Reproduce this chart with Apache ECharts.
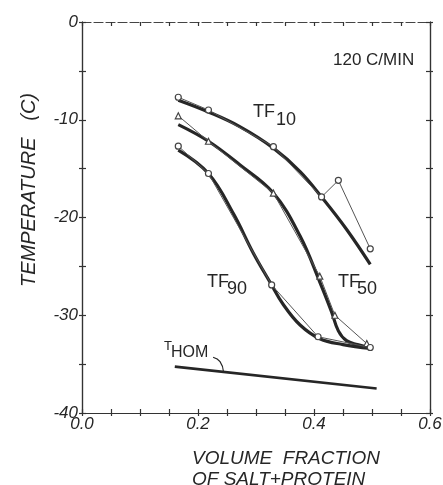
<!DOCTYPE html>
<html>
<head>
<meta charset="utf-8">
<script src="https://cdn.jsdelivr.net/npm/echarts@6/dist/echarts.min.js"></script>
<style>html,body{margin:0;padding:0;background:#fff}#c{width:443px;height:485px}</style>
</head>
<body>
<div id="c"></div>
<script>
// ---- data ----
const xTicks = ['0.0', '0.2', '0.4', '0.6'];
const yTicks = ['0', '-10', '-20', '-30', '-40'];

// measured points (thin lines with markers)
const tf10X = [0.166, 0.218, 0.330, 0.413, 0.442, 0.497];
const tf10Y = [-7.7, -9.0, -12.75, -17.9, -16.2, -23.2];
const tf50X = [0.166, 0.218, 0.330, 0.410, 0.436, 0.491];
const tf50Y = [-9.6, -12.2, -17.5, -26.0, -30.0, -32.9];
const tf90X = [0.166, 0.218, 0.327, 0.407, 0.497];
const tf90Y = [-12.7, -15.5, -26.9, -32.2, -33.3];

// fitted heavy curves
const fit10X = [0.166, 0.218, 0.272, 0.330, 0.376, 0.413, 0.456, 0.497];
const fit10Y = [-8.0, -9.2, -10.7, -12.9, -15.3, -17.9, -21.2, -24.8];
const fit50X = [0.166, 0.218, 0.272, 0.330, 0.376, 0.410, 0.430, 0.442, 0.456, 0.475, 0.497];
const fit50Y = [-10.5, -12.2, -14.6, -17.5, -21.9, -26.6, -29.6, -31.6, -32.6, -33.0, -33.3];
const fit90X = [0.166, 0.218, 0.261, 0.295, 0.324, 0.347, 0.376, 0.410, 0.450, 0.497];
const fit90Y = [-13.1, -15.5, -19.6, -23.6, -26.6, -28.9, -31.0, -32.4, -33.0, -33.4];
const thomX = [0.160, 0.508];
const thomY = [-35.26, -37.5];
const hookX = [0.226, 0.238, 0.244];
const hookY = [-34.3, -34.75, -35.8];

const zip = (xs, ys) => xs.map((x, i) => [x, ys[i]]);
const ink = '#262626';
const axisFont = 'Liberation Sans, Arial, sans-serif';

function baseX(extra) {
  return Object.assign({
    type: 'value', min: 0, max: 0.6, interval: 0.05,
    axisLine: { show: true, onZero: false, lineStyle: { color: '#333', width: 1.2 } },
    splitLine: { show: false },
    axisTick: { show: true, inside: true, length: 4, lineStyle: { color: '#333', width: 1.2 } },
    axisLabel: { show: false }
  }, extra);
}
function baseY(extra) {
  return Object.assign({
    type: 'value', min: -40, max: 0, interval: 5,
    axisLine: { show: true, onZero: false, lineStyle: { color: '#333', width: 1.2 } },
    splitLine: { show: false },
    axisTick: { show: true, inside: true, length: 4, lineStyle: { color: '#333', width: 1.2 } },
    axisLabel: { show: false }
  }, extra);
}

const chart = echarts.init(document.getElementById('c'), null, { renderer: 'canvas' });
const option = {
  backgroundColor: '#fff',
  animation: false,
  grid: { left: 82, right: 13, top: 22, bottom: 72, containLabel: false, outerBoundsMode: 'none' },
  xAxis: [
    baseX({
      position: 'bottom',
      axisLabel: {
        show: true, margin: 3, color: ink, fontSize: 17, fontStyle: 'italic', fontFamily: axisFont,
        formatter: v => {
          const k = v * 5;
          if (Math.abs(k - Math.round(k)) > 1e-6) return '';
          return xTicks[Math.round(k)];
        }
      }
    }),
    baseX({ position: 'bottom', offset: 0, axisTick: { show: true, inside: false, length: 3, lineStyle: { color: '#333', width: 1.2 } } }),
    baseX({ position: 'top', offset: 0, axisLine: { show: true, onZero: false, lineStyle: { color: '#444', width: 1.2, type: [9, 3] } } })
  ],
  yAxis: [
    baseY({
      position: 'left',
      axisLabel: {
        show: true, margin: 4, color: ink, fontSize: 17, fontStyle: 'italic', fontFamily: axisFont,
        formatter: v => {
          if (Math.round(v) % 10 !== 0) return '';
          return yTicks[Math.round(-v / 10)];
        }
      }
    }),
    baseY({ position: 'left', offset: 0, axisTick: { show: true, inside: false, length: 3, lineStyle: { color: '#333', width: 1.2 } } }),
    baseY({ position: 'right', offset: 0 }),
    baseY({ position: 'right', offset: 0, axisTick: { show: true, inside: false, length: 3, lineStyle: { color: '#333', width: 1.2 } } })
  ],
  series: [
    { type: 'line', name: 'TF10 fit', data: zip(fit10X, fit10Y), smooth: 0.4, showSymbol: false, lineStyle: { color: ink, width: 3.2 }, z: 3 },
    { type: 'line', name: 'TF50 fit', data: zip(fit50X, fit50Y), smooth: 0.4, showSymbol: false, lineStyle: { color: ink, width: 3.2 }, z: 3 },
    { type: 'line', name: 'TF90 fit', data: zip(fit90X, fit90Y), smooth: 0.4, showSymbol: false, lineStyle: { color: ink, width: 3.2 }, z: 3 },
    { type: 'line', name: 'TF10', data: zip(tf10X, tf10Y), symbol: 'circle', symbolSize: 6,
      itemStyle: { color: '#fff', borderColor: '#444', borderWidth: 1.2 }, lineStyle: { color: '#555', width: 1 }, z: 4 },
    { type: 'line', name: 'TF50', data: zip(tf50X, tf50Y), symbol: 'triangle', symbolSize: 6,
      itemStyle: { color: '#fff', borderColor: '#444', borderWidth: 1.2 }, lineStyle: { color: '#555', width: 1 }, z: 4 },
    { type: 'line', name: 'TF90', data: zip(tf90X, tf90Y), symbol: 'circle', symbolSize: 6,
      itemStyle: { color: '#fff', borderColor: '#444', borderWidth: 1.2 }, lineStyle: { color: '#555', width: 1 }, z: 4 },
    { type: 'line', name: 'THOM', data: zip(thomX, thomY), showSymbol: false, lineStyle: { color: ink, width: 2.6 }, z: 3 },
    { type: 'line', name: 'hook', data: zip(hookX, hookY), smooth: 0.5, showSymbol: false, lineStyle: { color: ink, width: 1.2 }, z: 3 }
  ],
  graphic: [
    { type: 'text', left: 192, top: 448, style: { text: 'VOLUME  FRACTION\nOF SALT+PROTEIN', fill: ink, lineHeight: 21, font: 'italic 19px Liberation Sans, Arial, sans-serif' } },
    { type: 'text', left: 19, top: 93, rotation: Math.PI / 2, style: { text: 'TEMPERATURE   (C)', fill: ink, font: 'italic 20px Liberation Sans, Arial, sans-serif' } },
    { type: 'text', left: 333, top: 52, style: { text: '120 C/MIN', fill: ink, font: '17px Liberation Sans, Arial, sans-serif' } },
    { type: 'text', left: 253, top: 103, style: { text: 'TF', fill: ink, font: '18px Liberation Sans, Arial, sans-serif' } },
    { type: 'text', left: 276, top: 111, style: { text: '10', fill: ink, font: '18px Liberation Sans, Arial, sans-serif' } },
    { type: 'text', left: 338, top: 273, style: { text: 'TF', fill: ink, font: '18px Liberation Sans, Arial, sans-serif' } },
    { type: 'text', left: 357, top: 280, style: { text: '50', fill: ink, font: '18px Liberation Sans, Arial, sans-serif' } },
    { type: 'text', left: 207, top: 273, style: { text: 'TF', fill: ink, font: '18px Liberation Sans, Arial, sans-serif' } },
    { type: 'text', left: 227, top: 280, style: { text: '90', fill: ink, font: '18px Liberation Sans, Arial, sans-serif' } },
    { type: 'text', left: 164, top: 340, style: { text: 'T', fill: ink, font: '13px Liberation Sans, Arial, sans-serif' } },
    { type: 'text', left: 171, top: 345, style: { text: 'HOM', fill: ink, font: '16px Liberation Sans, Arial, sans-serif' } }
  ]
};
chart.setOption(option);
</script>
</body>
</html>
